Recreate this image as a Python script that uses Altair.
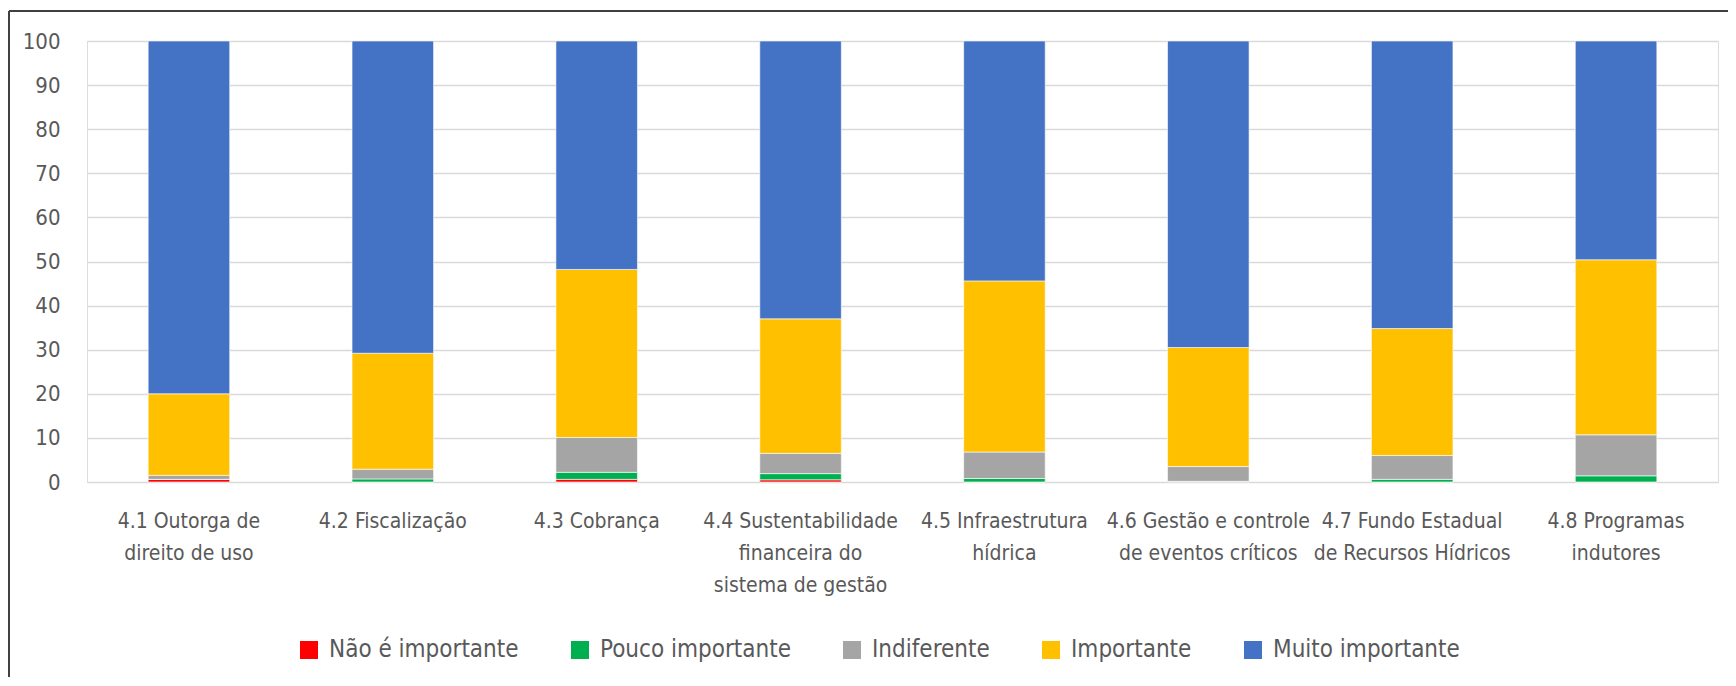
import altair as alt
import pandas as pd

categories = [
    "4.1 Outorga de\ndireito de uso",
    "4.2 Fiscalização",
    "4.3 Cobrança",
    "4.4 Sustentabilidade\nfinanceira do\nsistema de gestão",
    "4.5 Infraestrutura\nhídrica",
    "4.6 Gestão e controle\nde eventos críticos",
    "4.7 Fundo Estadual\nde Recursos Hídricos",
    "4.8 Programas\nindutores",
]
series = ["Não é importante", "Pouco importante", "Indiferente", "Importante", "Muito importante"]
colors = ["#FF0000", "#00B050", "#A5A5A5", "#FFC000", "#4472C4"]

nao_importante = [0.6, 0.0, 0.6, 0.5, 0.0, 0.15, 0.0, 0.0]
pouco_importante = [0.0, 0.7, 1.6, 1.4, 0.8, 0.0, 0.6, 1.4]
indiferente = [0.9, 2.2, 7.9, 4.6, 6.0, 3.35, 5.4, 9.3]
importante = [18.5, 26.3, 38.1, 30.5, 38.8, 27.0, 28.8, 39.7]
muito_importante = [80.0, 70.8, 51.8, 63.0, 54.4, 69.5, 65.2, 49.6]

y_ticks = list(range(0, 101, 10))

cols = [nao_importante, pouco_importante, indiferente, importante, muito_importante]
rows = []
for si, (s, vals) in enumerate(zip(series, cols)):
    for c, v in zip(categories, vals):
        rows.append({"cat": c, "serie": s, "valor": v, "ordem": si})
df = pd.DataFrame(rows)

FONT = "Liberation Sans Narrow, DejaVu Sans Condensed, Roboto Condensed, Arial Narrow, sans-serif"
TXT = "#595959"
FS = 21

W, H = 1631, 441

bars = alt.Chart(df).mark_bar(stroke="white", strokeWidth=0.6).encode(
    x=alt.X("cat:N", sort=categories, title=None,
            scale=alt.Scale(paddingInner=0.6, paddingOuter=0.3),
            axis=alt.Axis(labelAngle=0, labelExpr="split(datum.label, '\\n')",
                          labelLineHeight=32, labelPadding=28, labelFontSize=FS,
                          labelColor=TXT, labelFont=FONT, domain=False, ticks=False,
                          labelBaseline="top", labelLimit=0)),
    y=alt.Y("valor:Q", stack="zero", title=None,
            scale=alt.Scale(domain=[0, 100], nice=False),
            axis=alt.Axis(values=y_ticks, labelFontSize=22, labelColor=TXT, labelFont=FONT,
                          labelPadding=27, domain=False, ticks=False,
                          gridColor="#D9D9D9", gridWidth=1.5)),
    color=alt.Color("serie:N", sort=series,
                    scale=alt.Scale(domain=series, range=colors),
                    legend=alt.Legend(title=None, orient="none", direction="horizontal",
                                      legendX=210, legendY=597,
                                      symbolType="square", symbolSize=324,
                                      symbolStrokeWidth=0, labelFontSize=24,
                                      labelColor=TXT, labelFont=FONT, labelOffset=8,
                                      columnPadding=49, padding=0, labelLimit=0)),
    order=alt.Order("ordem:Q", sort="ascending"),
)

frame_left = alt.Chart(pd.DataFrame({"k": [0]})).mark_rule(color="#404040", strokeWidth=2).encode(
    x=alt.value(-78), y=alt.value(-30), y2=alt.value(700))
frame_top = alt.Chart(pd.DataFrame({"k": [0]})).mark_rule(color="#404040", strokeWidth=2).encode(
    x=alt.value(-78), x2=alt.value(1700), y=alt.value(-30))

chart = alt.layer(bars, frame_left, frame_top).properties(
    width=W, height=H,
    autosize=alt.AutoSizeParams(type="none"),
    padding={"left": 79, "top": 33, "right": 10, "bottom": 195},
).configure_view(stroke=None, clip=False).configure(background="white")

chart.save("out.html", embed_options={"renderer": "svg", "actions": False})
